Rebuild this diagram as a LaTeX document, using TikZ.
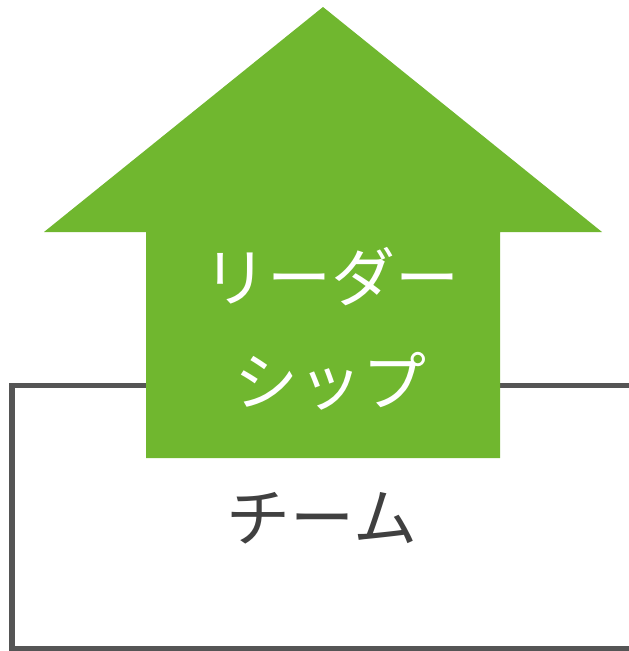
\documentclass[tikz,border=0pt]{standalone}
\usepackage{fontspec}
\newfontfamily\cjk{Noto Sans CJK JP}
\definecolor{leafgreen}{HTML}{70B72F}
\definecolor{framegray}{HTML}{555555}
\definecolor{textgray}{HTML}{404040}
\begin{document}
\begin{tikzpicture}[x=1pt,y=-1pt,
  frame/.style={draw=framegray,line width=5.5pt},
  lbl/.style={font=\cjk\fontsize{64}{66}\selectfont,inner sep=0pt,anchor=center}]
\useasboundingbox (0,0) rectangle (629,651);
\draw[frame] (629,385.5) -- (12,385.5) -- (12,648.5) -- (629,648.5);
\fill[leafgreen] (323,7) -- (602,232) -- (500,232) -- (500,458) -- (146,458) -- (146,232) -- (44,232) -- cycle;
\node[lbl,white] (leader) at (331,277) {リーダー};
\node[lbl,white] (ship) at (330,381) {シップ};
\node[lbl,textgray] (team) at (322,518) {チーム};
\end{tikzpicture}
\end{document}
